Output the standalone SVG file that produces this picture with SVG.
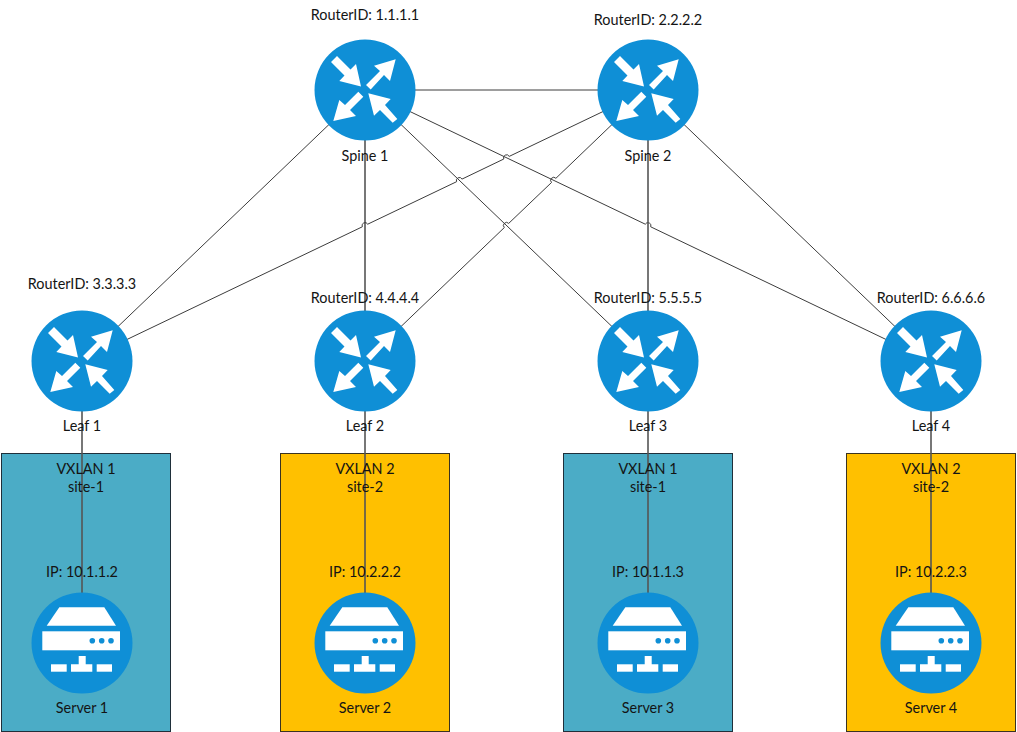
<svg xmlns="http://www.w3.org/2000/svg" xmlns:xlink="http://www.w3.org/1999/xlink" width="1017" height="732" viewBox="0 0 1017 732">
<style>
text{font-family:"Lato","Liberation Sans",sans-serif;font-size:14.4px;fill:#141414;text-anchor:middle}
.b{fill:#4bacc6;stroke:#1f2f3a;stroke-width:1}
.o{fill:#ffc000;stroke:#3a3320;stroke-width:1}
.c{fill:#0f8fd6}
.w{fill:#fff}
.d{fill:#0f8fd6}
#connectors path{fill:none;stroke:#3c3c3c;stroke-width:1}
#connectors path.v{stroke:#555;stroke-width:1.600}
</style>
<defs>
<g id="router"><circle class="c" r="50.500"/>
<path class="w" d="M-34-28-28-34-14.500-20.500-9-26-4-3.500-25.700-9-20.500-14.500Z"/>
<path class="w" d="M30.700-30.700 9-24.300 15-19 1-5 5.700-0.500 19-15 25-9Z"/>
<path class="w" d="M-31.700 31-25.700 10-20 15-6.700 1.700-1.700 6.700-15 20-9 26Z"/>
<path class="w" d="M3.300 3.300 25.700 9 20 15 32.300 29 27.700 32.700 15 20 9 25.700Z"/>
</g>
<g id="server"><circle class="c" r="50.500"/>
<path class="w" d="M-35.300-17.300H34L22.300-35.700H-22.700Z"/>
<rect class="w" x="-39.700" y="-11.700" width="77.700" height="19"/>
<circle class="d" cx="10.300" cy="-2.300" r="2.800"/><circle class="d" cx="19.700" cy="-2.300" r="2.800"/><circle class="d" cx="29" cy="-2.300" r="2.800"/>
<rect class="w" x="-31" y="21.300" width="15.700" height="7.400"/>
<rect class="w" x="14.700" y="21.300" width="15.300" height="7.400"/>
<path class="w" d="M-11 28.700V21.300H-3.300V13H3.700V21.300H10.300V28.700Z"/>
</g>
</defs>
<rect width="1017" height="732" fill="#fff"/>
<g id="areas">
<rect class="b" x="1.500" y="453.500" width="169" height="278"/>
<rect class="o" x="280.500" y="453.500" width="169" height="278"/>
<rect class="b" x="563.500" y="453.500" width="169" height="278"/>
<rect class="o" x="846.500" y="453.500" width="169" height="278"/>
</g>
<g id="connectors">
<path d="M365 90H648"/>
<path d="M365 90 82 361"/>
<path class="v" d="M365 90V361"/>
<path d="M365 90 648 361"/>
<path d="M365 90 645.300 224.200A3 3 0 0 1 650.700 226.800L931 361"/>
<path d="M648 90 509.200 156.400A3 3 0 0 0 503.800 159L462 179.100A3 3 0 0 0 456.600 181.700L367.700 224.200A3 3 0 0 0 362.300 226.800L82 361"/>
<path d="M648 90 555.900 178.300A3 3 0 0 0 551.500 182.500L508.700 223.400A3 3 0 0 0 504.300 227.600L365 361"/>
<path class="v" d="M648 90V361"/>
<path d="M648 90 931 361"/>
<path class="v" d="M82 361V643"/>
<path class="v" d="M365 361V643"/>
<path class="v" d="M648 361V643"/>
<path class="v" d="M931 361V643"/>
</g>
<g id="spine1"><use xlink:href="#router" href="#router" x="365" y="90"/><text x="365" y="20">RouterID: 1.1.1.1</text><text x="365" y="161">Spine 1</text></g>
<g id="spine2"><use xlink:href="#router" href="#router" x="648" y="90"/><text x="648" y="25">RouterID: 2.2.2.2</text><text x="648" y="161">Spine 2</text></g>
<g id="leaf1"><use xlink:href="#router" href="#router" x="82" y="361"/><text x="82" y="289">RouterID: 3.3.3.3</text><text x="82" y="431">Leaf 1</text></g>
<g id="leaf2"><use xlink:href="#router" href="#router" x="365" y="361"/><text x="365" y="303">RouterID: 4.4.4.4</text><text x="365" y="431">Leaf 2</text></g>
<g id="leaf3"><use xlink:href="#router" href="#router" x="648" y="361"/><text x="648" y="303">RouterID: 5.5.5.5</text><text x="648" y="431">Leaf 3</text></g>
<g id="leaf4"><use xlink:href="#router" href="#router" x="931" y="361"/><text x="931" y="303">RouterID: 6.6.6.6</text><text x="931" y="431">Leaf 4</text></g>
<g id="server1"><use xlink:href="#server" href="#server" x="82" y="643"/><text x="86" y="474">VXLAN 1</text><text x="86" y="492">site-1</text><text x="82" y="577">IP: 10.1.1.2</text><text x="82" y="713">Server 1</text></g>
<g id="server2"><use xlink:href="#server" href="#server" x="365" y="643"/><text x="365" y="474">VXLAN 2</text><text x="365" y="492">site-2</text><text x="365" y="577">IP: 10.2.2.2</text><text x="365" y="713">Server 2</text></g>
<g id="server3"><use xlink:href="#server" href="#server" x="648" y="643"/><text x="648" y="474">VXLAN 1</text><text x="648" y="492">site-1</text><text x="648" y="577">IP: 10.1.1.3</text><text x="648" y="713">Server 3</text></g>
<g id="server4"><use xlink:href="#server" href="#server" x="931" y="643"/><text x="931" y="474">VXLAN 2</text><text x="931" y="492">site-2</text><text x="931" y="577">IP: 10.2.2.3</text><text x="931" y="713">Server 4</text></g>
</svg>
